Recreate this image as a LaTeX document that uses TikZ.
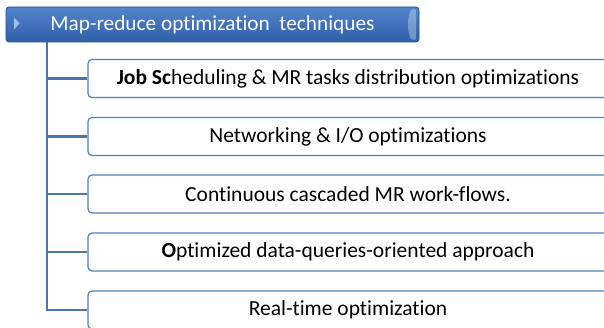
\documentclass[tikz,border=0pt]{standalone}
\usepackage{fontspec}
\setmainfont{Carlito}[Ligatures={NoCommon}]
\definecolor{boxline}{HTML}{4F81BD}
\definecolor{conn}{HTML}{4A74AE}
\definecolor{hdrtop}{HTML}{5284CC}
\definecolor{hdrbot}{HTML}{2F5FA8}
\definecolor{hdredge}{HTML}{2A5290}
\definecolor{tri}{HTML}{9CC0F0}
\tikzset{
  itembox/.style={draw=boxline, line width=1.2pt, fill=white, rounded corners=4pt,
    minimum width=520pt, minimum height=38pt, inner sep=0pt, font=\fontsize{21.5}{23}\selectfont, text=black},
  hdrbox/.style={draw=hdredge, line width=0.8pt, rounded corners=3pt, top color=hdrtop, bottom color=hdrbot,
    minimum width=413pt, minimum height=35pt, inner sep=0pt, text=white, font=\fontsize{21.3}{23}\selectfont},
  connline/.style={draw=conn, line width=2.8pt},
}
\begin{document}
\begin{tikzpicture}[x=1pt,y=-1pt]
\useasboundingbox (0,0) rectangle (604,328);
\clip (0,0) rectangle (604,328);
% connectors
\coordinate (top) at (47,42);
\node[itembox] (b1) at (348,78.5) {\textbf{Job Sc}heduling \& MR tasks distribution optimizations};
\node[itembox] (b2) at (348,136.5) {Networking \& I/O optimizations};
\node[itembox] (b3) at (348,194) {Continuous cascaded MR work-flows.};
\node[itembox] (b4) at (348,252) {\textbf{O}ptimized data-queries-oriented approach};
\node[itembox] (b5) at (348,310) {Real-time optimization};
\draw[connline] (top) |- (b5.west);
\foreach \b in {b1,b2,b3,b4}{
  \draw[connline] (\b.west -| top) -- (\b.west);
}
% header
\node[hdrbox] (hdr) at (212.5,24.5) {Map-reduce optimization\ \ techniques};
\fill[tri] (14,17.5) -- (19.5,23.5) -- (14,29.5) -- cycle;
\fill[white, opacity=0.3, rounded corners=2pt] (411,9) -- (416,9) -- (416,40) -- (411,40) -- (408,30) -- (408,19) -- cycle;
\end{tikzpicture}
\end{document}
